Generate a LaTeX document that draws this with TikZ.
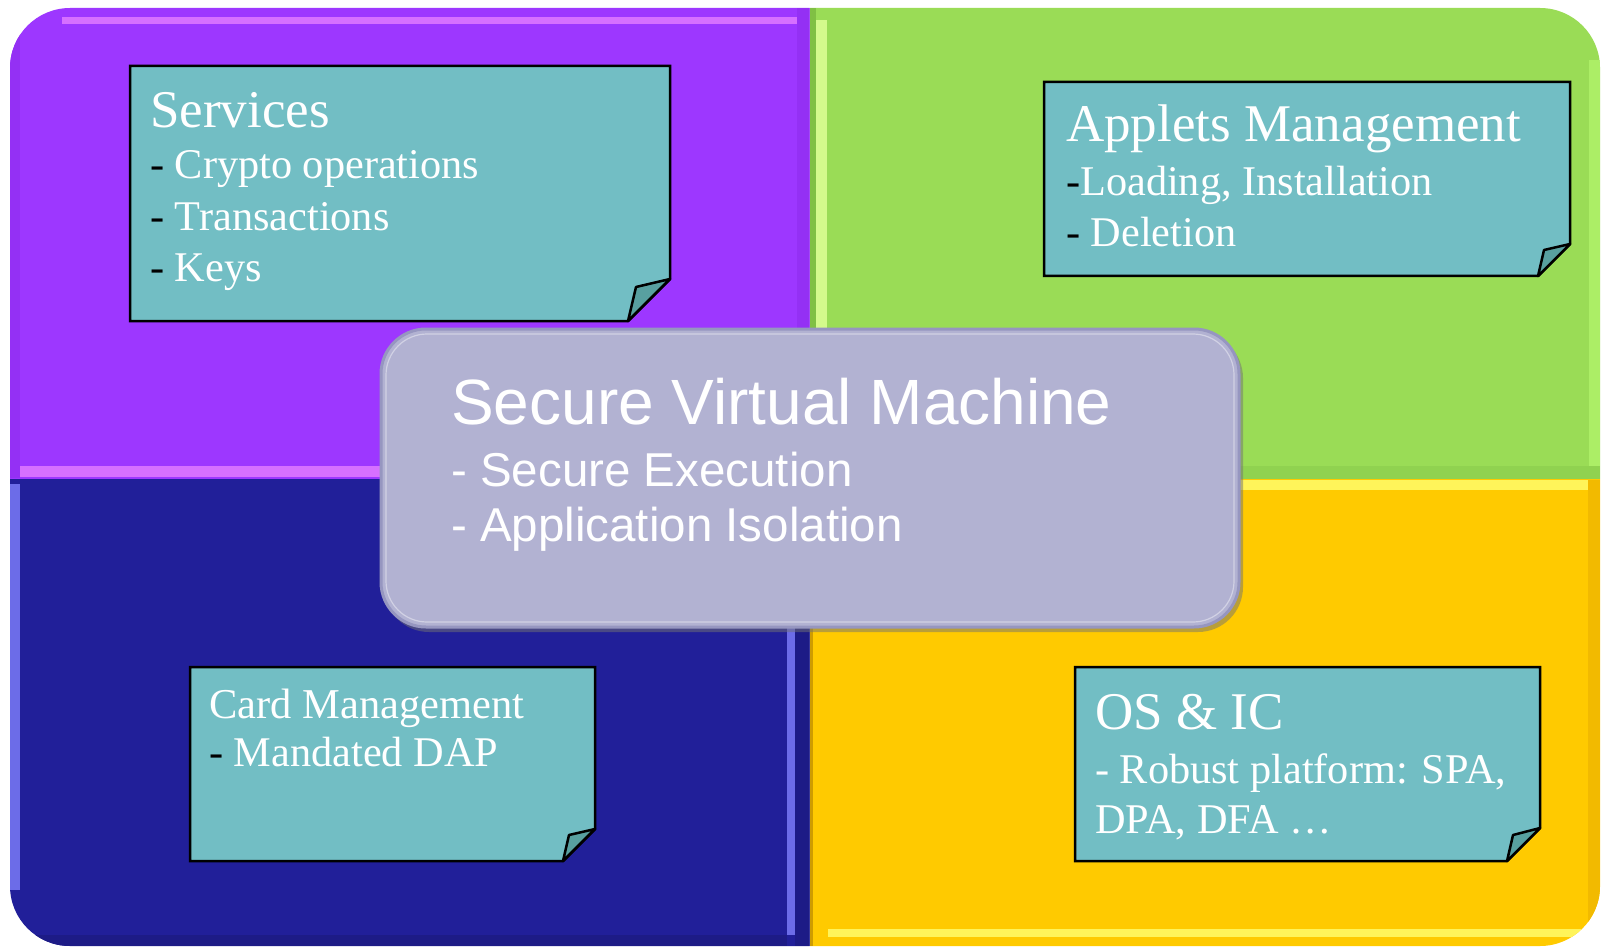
\documentclass[tikz,border=0pt]{standalone}
\usepackage{fontspec}
\setmainfont{Liberation Serif}
\newfontfamily\arialf{Liberation Sans}
\definecolor{cpurple}{RGB}{157,55,255}
\definecolor{pHL}{RGB}{214,112,255}
\definecolor{pDark}{RGB}{148,48,244}
\definecolor{cgreen}{RGB}{154,220,86}
\definecolor{gHL}{RGB}{212,250,140}
\definecolor{gHLb}{RGB}{172,238,102}
\definecolor{gDark}{RGB}{128,192,68}
\definecolor{gDarkb}{RGB}{144,210,80}
\definecolor{cnavy}{RGB}{33,31,153}
\definecolor{nHL}{RGB}{108,108,232}
\definecolor{nDark}{RGB}{29,27,134}
\definecolor{cyellow}{RGB}{255,202,0}
\definecolor{yHL}{RGB}{255,244,90}
\definecolor{yDark}{RGB}{242,186,0}
\definecolor{yShade}{RGB}{206,156,0}
\definecolor{cteal}{RGB}{114,190,196}
\definecolor{cfold}{RGB}{88,160,160}
\definecolor{cbox}{RGB}{178,178,210}
\definecolor{cboxrim}{RGB}{150,150,192}
\begin{document}
\begin{tikzpicture}[x=1pt,y=-1pt,
  notebody/.style={fill=cteal,draw=black,line width=2.5pt,line join=miter},
  notefold/.style={fill=cfold,draw=black,line width=2.5pt,line join=round},
  bigtitle/.style={anchor=base west,inner sep=0pt,text=white,font=\fontsize{53}{60}\selectfont},
  smalltitle/.style={anchor=base west,inner sep=0pt,text=white,font=\fontsize{42.5}{48}\selectfont},
  noteline/.style={anchor=base west,inner sep=0pt,text=white,font=\fontsize{42.3}{48}\selectfont},
  vmtitle/.style={anchor=base west,inner sep=0pt,text=white,font=\arialf\fontsize{64}{70}\selectfont},
  vmline/.style={anchor=base west,inner sep=0pt,text=white,font=\arialf\fontsize{47.5}{54}\selectfont}]
\useasboundingbox (0,0) rectangle (1602,949);
\fill[white] (0,0) rectangle (1602,949);

% ---------- quadrants ----------
% purple (top left)
\begin{scope}
  \clip[rounded corners=60pt] (10,8) rectangle (1600,946);
  \clip (0,0) rectangle (809.5,478.5);
  \fill[cpurple] (0,0) rectangle (809.5,478.5);
  \fill[pDark] (10,8) rectangle (20,478);
  \fill[pDark] (797,8) rectangle (809.5,478);
  \fill[pHL] (62,17) rectangle (797,24);
  \fill[pHL] (20,466) rectangle (809.5,477);
\end{scope}
% green (top right)
\begin{scope}
  \clip[rounded corners=60pt] (10,8) rectangle (1600,946);
  \clip (809.5,0) rectangle (1602,478.5);
  \fill[cgreen] (809.5,0) rectangle (1602,478.5);
  \fill[gDark] (809.5,8) rectangle (816,478.5);
  \fill[gHL] (816,20) rectangle (827,466);
  \fill[gHLb] (1589,60) rectangle (1600,466);
  \fill[gDarkb] (827,466) rectangle (1600,478.5);
\end{scope}
% navy (bottom left)
\begin{scope}
  \clip[rounded corners=60pt] (10,8) rectangle (1600,946);
  \clip (0,478.5) rectangle (809.5,949);
  \fill[cnavy] (0,478.5) rectangle (809.5,949);
  \fill[nHL] (10,484) rectangle (20,890);
  \fill[nHL] (787,479) rectangle (795,935);
  \fill[nDark] (795,479) rectangle (809.5,946);
  \fill[nDark] (20,935) rectangle (787,946);
\end{scope}
% yellow (bottom right)
\begin{scope}
  \clip[rounded corners=60pt] (10,8) rectangle (1600,946);
  \clip (809.5,478.5) rectangle (1602,949);
  \fill[cyellow] (809.5,478.5) rectangle (1602,949);
  \fill[yShade] (809.5,478.5) rectangle (813,946);
  \fill[yHL] (813,480) rectangle (1588,490);
  \fill[yHL] (828,929) rectangle (1588,937);
  \fill[yDark] (1588,480) rectangle (1600,946);
\end{scope}

% ---------- notes ----------
% Services
\draw[notebody] (130,66) -- (670,66) -- (670,279) -- (628,321) -- (130,321) -- cycle;
\draw[notefold] (670,279) -- (636,287) -- (628,321) -- cycle;
\node[bigtitle] (srvT) at (150,128) {Services};
\node[noteline] (srv1) at (150,179) {\textcolor{black}{-} Crypto operations};
\node[noteline] (srv2) at (150,231) {\textcolor{black}{-} Transactions};
\node[noteline] (srv3) at (150,282) {\textcolor{black}{-} Keys};

% Applets Management
\draw[notebody] (1044,82) -- (1570,82) -- (1570,244) -- (1538,276) -- (1044,276) -- cycle;
\draw[notefold] (1570,244) -- (1544,250) -- (1538,276) -- cycle;
\node[bigtitle] (appT) at (1066,142) {Applets Management};
\node[noteline] (app1) at (1066,196) {\textcolor{black}{-}Loading, Installation};
\node[noteline] (app2) at (1066,247) {\textcolor{black}{-} Deletion};

% Card Management
\draw[notebody] (190,667) -- (595,667) -- (595,829) -- (563,861) -- (190,861) -- cycle;
\draw[notefold] (595,829) -- (569,835) -- (563,861) -- cycle;
\node[smalltitle] (cardT) at (209,718) {Card Management};
\node[noteline] (card1) at (209,766) {\textcolor{black}{-} Mandated DAP};

% OS & IC
\draw[notebody] (1075,667) -- (1540,667) -- (1540,828) -- (1507,861) -- (1075,861) -- cycle;
\draw[notefold] (1540,828) -- (1513,835) -- (1507,861) -- cycle;
\node[bigtitle] (osT) at (1095,729) {OS \& IC};
\node[noteline] (os1) at (1095,783) {- Robust platform: SPA,};
\node[noteline] (os2) at (1095,833) {DPA, DFA \ldots};

% ---------- Secure Virtual Machine ----------
\fill[black!55,opacity=.5,rounded corners=45pt] (384,333) rectangle (1243,632);
\node[draw=cboxrim,fill=cbox,line width=3pt,rounded corners=45pt,
      minimum width=858pt,minimum height=298pt,inner sep=0pt] (svm) at (810,478) {};
\draw[white!40!cbox,line width=1.2pt,rounded corners=41pt] (386,334) rectangle (1234,622);
\node[vmtitle] (svmT) at (451,424) {Secure Virtual Machine};
\node[vmline] (svm1) at (451,486) {- Secure Execution};
\node[vmline] (svm2) at (451,541) {- Application Isolation};
\end{tikzpicture}
\end{document}
